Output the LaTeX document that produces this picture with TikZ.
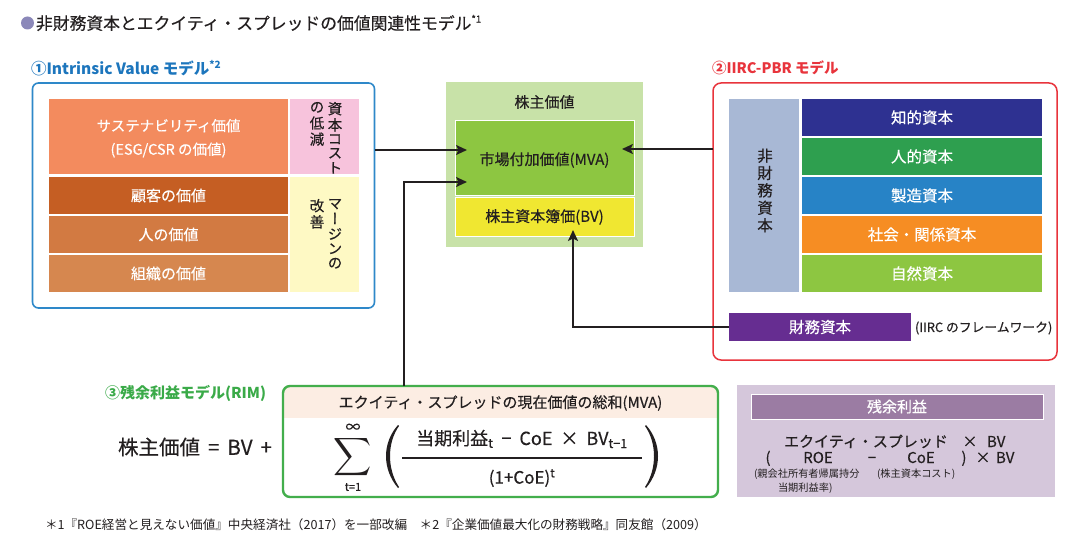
\documentclass[tikz,border=0pt]{standalone}
\usepackage{fontspec}
\usepackage{graphicx}
\setmainfont{Noto Sans CJK JP}
\newfontfamily\med{Noto Sans CJK JP}[FakeBold=0.4]
\newfontfamily\vfont{Noto Sans CJK JP}[RawFeature=+vert,FakeBold=0.4]
\usetikzlibrary{arrows.meta}
\definecolor{cDark}{HTML}{231F20}
\definecolor{cBullet}{HTML}{8B88B9}
\definecolor{cBlueT}{HTML}{1D76BD}
\definecolor{cBlueB}{HTML}{2E88C9}
\definecolor{cRed}{HTML}{E8343C}
\definecolor{cGreenT}{HTML}{3AAA48}
\definecolor{cGreenB}{HTML}{43AE4C}
\definecolor{cSus}{HTML}{F38B5E}
\definecolor{cKok}{HTML}{C55E23}
\definecolor{cHito}{HTML}{D27A42}
\definecolor{cSos}{HTML}{D6874F}
\definecolor{cPink}{HTML}{F7C3DC}
\definecolor{cYel}{HTML}{FEF9C4}
\definecolor{cLG}{HTML}{C8E2A8}
\definecolor{cMVA}{HTML}{8DC641}
\definecolor{cBV}{HTML}{F0E731}
\definecolor{cNF}{HTML}{A8B8D5}
\definecolor{cR1}{HTML}{2E3191}
\definecolor{cR2}{HTML}{2E9F4F}
\definecolor{cR3}{HTML}{2783C6}
\definecolor{cR4}{HTML}{F68D23}
\definecolor{cR5}{HTML}{8DC641}
\definecolor{cZai}{HTML}{662D91}
\definecolor{cPeach}{HTML}{FCEDE3}
\definecolor{cPurL}{HTML}{D5C7DB}
\definecolor{cPurH}{HTML}{9B7CA3}
\newcommand\fsz[1]{\fontsize{#1}{#1}\selectfont}
\newcommand\vt[1]{\begin{tabular}{@{}c@{}}#1\end{tabular}}
\begin{document}
\begin{tikzpicture}[x=1pt,y=-1pt,
  every node/.style={inner sep=0pt, outer sep=0pt},
  blk/.style={rectangle, inner sep=0pt, text=white, align=center, font=\med},
  wblk/.style={blk, draw=white, line width=1pt},
  arr/.style={line width=2.5pt, draw=cDark, -{Stealth[length=11pt,width=10pt,inset=2.5pt]}},
  dtext/.style={text=cDark, font=\med}]
\useasboundingbox (0,0) rectangle (1076,548);
\fill[white] (0,0) rectangle (1076,548);

% title
\node[circle, fill=cBullet, minimum size=13pt] (bul) at (27.5,23) {};
\node[anchor=west, dtext] (title) at (36,23) {\fsz{16.8}非財務資本とエクイティ・スプレッドの価値関連性モデル\raisebox{7pt}{\fsz{9.5}*1}};

% (1) Intrinsic value
\node[anchor=west, text=cBlueT, font=\bfseries] (lab1) at (31,68) {\fsz{15.5}①Intrinsic Value モデル\raisebox{6pt}{\fsz{10}*2}};
\node[draw=cBlueB, line width=1.6pt, rounded corners=6pt, minimum width=342pt, minimum height=225pt] (lbox) at (203.5,195.5) {};
\node[blk, fill=cSus, minimum width=239pt, minimum height=75pt] (sus) at (168.5,136.5) {};
\node[text=white, font=\med] (sust) at (168.5,139) {\fsz{14.5}\begin{tabular}{@{}c@{}}サステナビリティ価値\\[7pt](ESG/CSR の価値)\end{tabular}};
\node[blk, fill=cKok, minimum width=239pt, minimum height=37pt] (kok) at (168.5,195.5) {\fsz{15}顧客の価値};
\node[blk, fill=cHito, minimum width=239pt, minimum height=37pt] (hito) at (168.5,234.5) {\fsz{15}人の価値};
\node[blk, fill=cSos, minimum width=239pt, minimum height=37pt] (sos) at (168.5,273.5) {\fsz{15}組織の価値};
\node[blk, fill=cPink, minimum width=69pt, minimum height=75pt] (pink) at (324.5,136.5) {};
\node[blk, fill=cYel, minimum width=69pt, minimum height=115pt] (yel) at (324.5,234.5) {};
\node[anchor=north, text=cDark] (pk1) at (335,102) {\fontsize{14.5}{13.3}\selectfont\vfont\vt{資\\本\\コ\\ス\\ト}};
\node[anchor=north, text=cDark] (pk2) at (317,102) {\fontsize{14.5}{13.3}\selectfont\vfont\vt{の\\低\\減}};
\node[anchor=north, text=cDark] (yl1) at (335,199) {\fontsize{14.5}{13.3}\selectfont\vfont\vt{マ\\ー\\ジ\\ン\\の}};
\node[anchor=north, text=cDark] (yl2) at (317,199) {\fontsize{14.5}{13.3}\selectfont\vfont\vt{改\\善}};

% center
\node[blk, fill=cLG, minimum width=197pt, minimum height=165pt] (outer) at (544.5,164.5) {};
\node[dtext] (kabu) at (544.5,102) {\fsz{15}株主価値};
\node[wblk, fill=cMVA, minimum width=179pt, minimum height=75pt] (mva) at (544.5,158.5) {};
\node[dtext] (mvat) at (544.5,160) {\fsz{15}市場付加価値(MVA)};
\node[wblk, fill=cBV, minimum width=179pt, minimum height=38pt, text=cDark] (bv) at (544.5,217) {\fsz{15}株主資本簿価(BV)};

% (2) IIRC-PBR
\node[anchor=west, text=cRed, font=\bfseries] (lab2) at (712,68) {\fsz{14.5}②IIRC-PBR モデル};
\node[draw=cRed, line width=1.5pt, rounded corners=8pt, minimum width=344pt, minimum height=277pt] (rbox) at (885,221.5) {};
\node[blk, fill=cNF, minimum width=70pt, minimum height=193pt] (nf) at (764,195.5) {};
\node[text=cDark, font=\med] (nft) at (765,192) {\fontsize{15.5}{14.6}\selectfont\vt{非\\財\\務\\資\\本}};
\node[blk, fill=cR1, minimum width=240pt, minimum height=37pt] (r1) at (922,117.5) {\fsz{15.5}知的資本};
\node[blk, fill=cR2, minimum width=240pt, minimum height=37pt] (r2) at (922,156.5) {\fsz{15.5}人的資本};
\node[blk, fill=cR3, minimum width=240pt, minimum height=37pt] (r3) at (922,195.5) {\fsz{15.5}製造資本};
\node[blk, fill=cR4, minimum width=240pt, minimum height=37pt] (r4) at (922,234.5) {\fsz{15.5}社会・関係資本};
\node[blk, fill=cR5, minimum width=240pt, minimum height=37pt] (r5) at (922,273.5) {\fsz{15.5}自然資本};
\node[blk, fill=cZai, minimum width=182pt, minimum height=28pt] (zaimu) at (820,327) {\fsz{15.5}財務資本};
\node[anchor=west, dtext] (iirc) at (915,328) {\fsz{12.8}(IIRC のフレームワーク)};

% (3) RIM
\node[anchor=west, text=cGreenT, font=\bfseries] (lab3) at (105,393) {\fsz{15}③残余利益モデル(RIM)};
\begin{scope}
\clip[rounded corners=7pt] (283,386) rectangle (718,497);
\fill[cPeach] (283,386) rectangle (718,418);
\end{scope}
\node[draw=cGreenB, line width=2.4pt, rounded corners=7pt, minimum width=435pt, minimum height=111pt] (rimbox) at (500.5,441.5) {};
\node[dtext] (rimhead) at (500.5,403) {\fsz{15}エクイティ・スプレッドの現在価値の総和(MVA)};
\node[dtext] (eq) at (195,447) {\fsz{20.5}株主価値\hspace{8pt}=\hspace{8pt}BV\hspace{8pt}+};
\node[text=cDark] (sig) at (353,464) {\smash{\scalebox{2.65}{$\displaystyle\sum$}}};
\node[dtext] (inf) at (353,428) {\fsz{15}∞};
\node[dtext] (t1) at (353,487) {\fsz{11}t=1};
\fill[cDark] (398,425) .. controls (382,443) and (382,469) .. (398,488) -- (399,487) .. controls (387,469) and (387,443) .. (399,426) -- cycle;
\fill[cDark] (646,425) .. controls (662,443) and (662,469) .. (646,488) -- (645,487) .. controls (657,469) and (657,443) .. (645,426) -- cycle;
\node[dtext] (num) at (522,439) {\fsz{18}当期利益\textsubscript{t}\hspace{8pt}−\hspace{8pt}CoE\hspace{8pt}×\hspace{8pt}BV\textsubscript{t−1}};
\draw[cDark, line width=1.2pt] (402,458) -- (642,458);
\node[dtext] (den) at (522,478) {\fsz{17}(1+CoE)\textsuperscript{t}};

% residual income box
\node[blk, fill=cPurL, minimum width=318pt, minimum height=112pt] (pbox) at (896,441) {};
\node[wblk, fill=cPurH, minimum width=292pt, minimum height=25pt] (phead) at (897,406.5) {\fsz{15}残余利益};
\node[dtext, anchor=base] (p1a) at (866,447) {\fsz{15}エクイティ・スプレッド};
\node[dtext, anchor=base] (p1b) at (970,447) {\fsz{15}×};
\node[dtext, anchor=base west] (p1c) at (987,447) {\fsz{15}BV};
\node[dtext, anchor=base] (p2a) at (768,463) {\fsz{15}(};
\node[dtext, anchor=base] (p2b) at (818,463) {\fsz{15}ROE};
\node[dtext, anchor=base] (p2c) at (872,463) {\fsz{15}−};
\node[dtext, anchor=base] (p2d) at (921,463) {\fsz{15}CoE};
\node[dtext, anchor=base] (p2e) at (964,463) {\fsz{15})};
\node[dtext, anchor=base] (p2f) at (983,463) {\fsz{15}×};
\node[dtext, anchor=base west] (p2g) at (996,463) {\fsz{15}BV};
\node[text=cDark, anchor=base west] (p3a) at (754,477) {\fsz{10.2}(親会社所有者帰属持分};
\node[text=cDark, anchor=base west] (p3b) at (877,477) {\fsz{10.2}(株主資本コスト)};
\node[text=cDark, anchor=base west] (p4a) at (778,491) {\fsz{10.2}当期利益率)};

% footnote
\node[text=cDark, anchor=west] (foot) at (45,525) {\fsz{12.6}＊1『ROE経営と見えない価値』中央経済社（2017）を一部改編　＊2『企業価値最大化の財務戦略』同友館（2009）};

% arrows
\coordinate (e1) at (467,150);
\coordinate (e2) at (467,182);
\coordinate (x2) at (404,0);
\coordinate (e3) at (622,149);
\coordinate (e4) at (573,230);
\draw[arr] (lbox.east |- e1) -- (e1);
\draw[arr] (rimbox.north -| x2) |- (e2);
\draw[arr] (rbox.west |- e3) -- (e3);
\draw[arr] (zaimu.west) -| (e4);
\end{tikzpicture}
\end{document}
